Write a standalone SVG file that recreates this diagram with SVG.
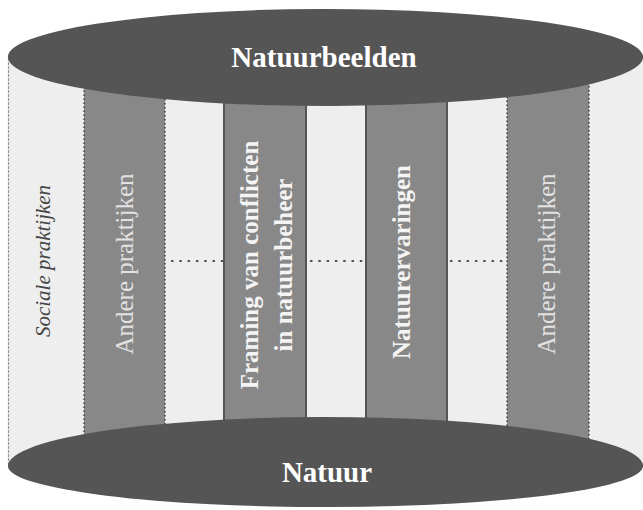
<svg xmlns="http://www.w3.org/2000/svg" width="643" height="510" viewBox="0 0 643 510">
<style>
.bg{fill:#eeeeee}
.edge{fill:none;stroke:#999999;stroke-width:1.2;stroke-dasharray:3 1}
.colD{fill:#888888;stroke:#444444;stroke-width:1.5;stroke-dasharray:1.5 2.5}
.colS{fill:#888888;stroke:#555555;stroke-width:2}
.dot{fill:none;stroke:#555555;stroke-width:2.2;stroke-dasharray:2.5 5.8}
.ell{fill:#555555}
.t{font-family:"Liberation Serif","Times New Roman",serif;text-anchor:middle}
.big{font-size:29px;font-weight:bold;fill:#ffffff}
.reg{font-size:25px;fill:#e2e2e2}
.bold{font-size:25px;font-weight:bold;fill:#f4f4f4}
.ital{font-size:21px;font-style:italic;fill:#444444}
</style>
<g id="cylinder">
<rect class="bg" x="8" y="57" width="640" height="410"/>
<line class="edge" x1="8.5" y1="58" x2="8.5" y2="466"/>
</g>
<g id="sociale-praktijken">
<text class="t ital" transform="translate(50,261) rotate(-90)">Sociale praktijken</text>
</g>
<g id="connectors">
<line class="dot" x1="171" y1="261" x2="223" y2="261"/>
<line class="dot" x1="310" y1="261" x2="365" y2="261"/>
<line class="dot" x1="450" y1="261" x2="506" y2="261"/>
</g>
<g id="andere-praktijken-links">
<rect class="colD" x="84" y="60" width="81" height="405"/>
<text class="t reg" transform="translate(133,264) rotate(-90)">Andere praktijken</text>
</g>
<g id="framing">
<rect class="colS" x="224" y="60" width="82" height="400"/>
<text class="t bold" transform="translate(258,265) rotate(-90)"><tspan x="0" y="0">Framing van conflicten</tspan><tspan x="0" y="34">in natuurbeheer</tspan></text>
</g>
<g id="natuurervaringen">
<rect class="colS" x="366" y="60" width="81" height="400"/>
<text class="t bold" transform="translate(410,262) rotate(-90)">Natuurervaringen</text>
</g>
<g id="andere-praktijken-rechts">
<rect class="colD" x="507" y="60" width="82" height="405"/>
<text class="t reg" transform="translate(555,264) rotate(-90)">Andere praktijken</text>
</g>
<g id="natuurbeelden">
<path class="ell" d="M8,58 A317.5,48 0 0 1 643,56 A317.5,49 0 0 1 8,58 Z"/>
<text class="t big" x="324" y="67">Natuurbeelden</text>
</g>
<g id="natuur">
<path class="ell" d="M8,467 A317.5,49 0 0 1 643,465 A317.5,41 0 0 1 8,467 Z"/>
<text class="t big" x="327" y="482">Natuur</text>
</g>
</svg>
